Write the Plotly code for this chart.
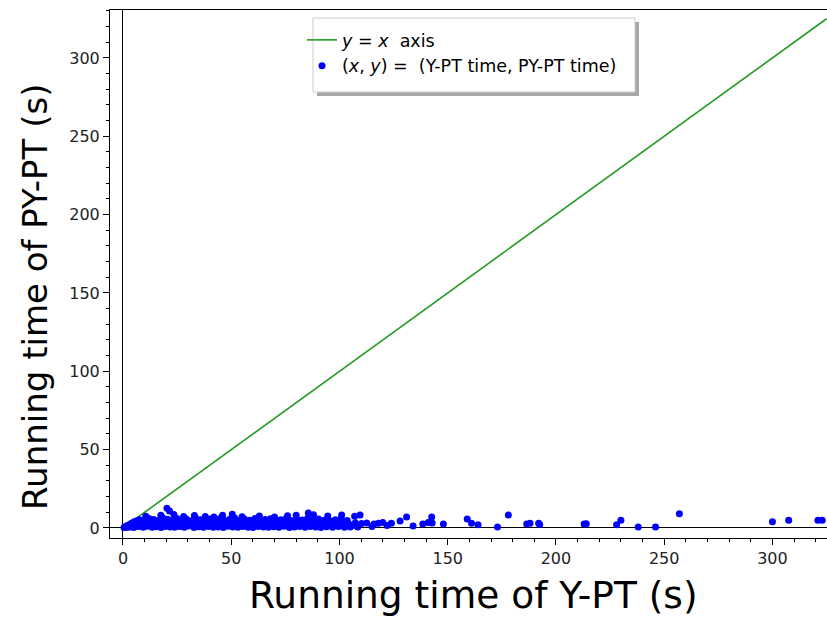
import plotly.graph_objects as go

# y = x reference line
line_x = [0, 325]
line_y = [0, 325]

# (Y-PT time, PY-PT time) pairs
ypt_time = [
    # wedge near origin
    0.5, 1.0, 2.0, 3.0, 4.0, 5.0, 6.0, 2.4, 3.6,
    # bottom row
    1.5, 3.2, 5.0, 7.1, 9.3, 11.0, 13.4, 15.2, 17.6, 19.5, 21.8, 23.9, 26.1, 28.3, 30.4, 32.8,
    35.0, 37.2, 39.6, 41.7, 44.0, 46.3, 48.5, 50.7, 53.1, 55.4, 57.8, 60.0, 62.5, 64.9, 67.2,
    69.6, 72.0, 74.3, 76.9, 79.2, 81.6, 84.1, 86.5, 89.0, 91.4, 94.0, 96.8, 99.5, 102.3, 105.0,
    108.4, 115.0, 122.0,
    # lower-middle row
    5.5, 8.0, 10.2, 12.3, 14.5, 16.6, 18.8, 20.9, 23.1, 25.2, 27.4, 29.6, 31.7, 33.9, 36.1, 38.3,
    40.5, 42.7, 44.9, 47.2, 49.4, 51.7, 53.9, 56.2, 58.5, 60.8, 63.1, 65.4, 67.8, 70.1, 72.5,
    74.9, 77.3, 79.7, 82.2, 84.6, 87.1, 89.6, 92.2, 94.8, 97.4, 100.1, 103.0, 106.1,
    # middle row
    3.8, 6.2, 8.5, 10.7, 12.6, 14.8, 17.0, 19.1, 21.3, 23.4, 25.6, 27.9, 30.1, 32.2, 34.5, 36.7,
    38.9, 41.1, 43.4, 45.6, 47.9, 50.1, 52.4, 54.8, 57.1, 59.4, 61.8, 64.2, 66.5, 68.9, 71.3,
    73.7, 76.1, 78.6, 81.0, 83.5, 86.0, 88.4, 90.9, 93.5, 96.2, 98.8, 101.6, 104.5, 107.3, 110.2,
    # top row
    7.5, 9.8, 12.0, 14.1, 16.3, 18.4, 20.6, 22.7, 24.9, 27.0, 29.2, 31.4, 33.6, 35.8, 38.1, 40.3,
    42.5, 44.8, 47.0, 49.3, 51.6, 53.9, 56.2, 58.6, 61.0, 63.3, 65.7, 68.1, 70.5, 72.9, 75.4,
    77.8, 80.3, 82.8, 85.3, 87.8, 90.3, 92.9, 95.5, 98.1, 100.8, 103.6,
    # bumps
    10.5, 17.5, 20.3, 21.5, 23.5, 28.0, 33.0, 38.0, 42.0, 46.0, 50.5, 55.0, 63.0, 70.0, 76.0,
    80.0, 85.6, 88.0, 94.6, 101.0, 107.0, 109.5,
    # sparse tail
    112.6, 116.0, 118.0, 120.0, 124.0, 128.0, 131.0, 134.0, 138.5, 141.0, 142.6, 142.8, 148.0,
    159.0, 161.0, 164.0, 173.0, 178.0, 186.5, 188.0, 192.0, 192.5, 213.0, 214.0, 228.0, 230.0,
    238.0, 246.0, 257.0, 300.0, 307.5, 321.0, 323.0,
]
pypt_time = [
    0.3, 0.8, 1.5, 2.2, 3.0, 3.8, 4.5, 0.6, 1.2,
    0.4, 0.7, 0.3, 0.9, 0.5, 1.1, 0.4, 0.8, 0.3, 1.0, 0.6, 0.4, 0.9, 0.5, 1.2, 0.3,
    0.8, 0.5, 1.0, 0.4, 0.7, 0.3, 1.1, 0.6, 0.4, 0.9, 0.5, 0.3, 1.0, 0.7, 0.4,
    0.8, 0.5, 1.1, 0.3, 0.7, 0.9, 0.4, 1.0, 0.6, 0.3, 0.8, 0.5, 1.0, 0.4, 0.7,
    0.6, 1.0, 1.5,
    1.8, 1.5, 2.0, 1.7, 1.4, 2.1, 1.6, 1.9, 1.5, 2.0, 1.7, 1.4, 1.9, 1.6, 2.1, 1.5,
    1.8, 1.6, 2.0, 1.4, 1.9, 1.7, 1.5, 2.1, 1.6, 1.8, 1.4, 2.0, 1.7, 1.5, 1.9,
    1.6, 2.0, 1.4, 1.8, 1.7, 1.5, 2.1, 1.6, 1.9, 1.4, 1.8, 1.6, 1.5,
    2.5, 3.1, 2.2, 3.6, 2.8, 3.3, 2.4, 3.8, 2.9, 2.3, 3.5, 2.7, 3.2, 2.1, 3.7, 2.6,
    3.4, 2.2, 3.0, 3.6, 2.5, 3.3, 2.8, 2.3, 3.5, 2.9, 3.1, 2.4, 3.7, 2.6, 3.2,
    2.2, 3.4, 2.7, 3.0, 2.5, 3.6, 2.3, 3.1, 2.8, 3.4, 2.6, 3.0, 2.4, 3.3, 2.9,
    5.2, 4.7, 6.0, 5.4, 4.9, 6.3, 5.6, 4.8, 6.1, 5.0, 5.7, 4.6, 6.2, 5.3, 4.9, 5.8,
    5.1, 6.0, 4.7, 5.5, 6.3, 4.8, 5.6, 5.0, 6.1, 4.6, 5.4, 5.9, 4.9, 5.2, 6.0,
    4.7, 5.5, 5.1, 6.2, 4.8, 5.7, 5.0, 4.6, 5.3, 5.9, 4.8,
    7.5, 8.2, 12.6, 10.8, 8.6, 7.3, 8.0, 7.4, 7.0, 8.1, 8.8, 7.2, 7.6, 7.0, 7.8,
    8.1, 9.5, 8.4, 7.7, 8.3, 7.5, 8.3,
    3.2, 2.5, 3.0, 3.5, 3.0, 4.5, 7.0, 1.3, 2.5, 3.5, 7.0, 3.2, 2.5,
    5.7, 3.0, 2.0, 0.6, 8.3, 2.5, 3.0, 3.0, 2.2, 2.5, 2.7, 2.0, 5.0,
    0.6, 0.6, 9.0, 4.0, 5.0, 5.0, 5.0,
]

# plot area in pixels (for placing legend box / titles)
L, R, T, B = 110, 827, 10, 538
W, H = R - L, B - T


def px(xp):
    return (xp - L) / W


def py(yp):
    return (B - yp) / H


fig = go.Figure()

fig.add_trace(go.Scatter(
    x=line_x, y=line_y, mode="lines",
    line=dict(color="#249b24", width=1.6),
    name="<i>y</i> = <i>x</i>  axis",
))
fig.add_trace(go.Scatter(
    x=ypt_time, y=pypt_time, mode="markers",
    marker=dict(color="#0000ff", size=7, line=dict(width=0)),
    name="(<i>x</i>, <i>y</i>) =  (Y-PT time, PY-PT time)",
))

axis_common = dict(
    showgrid=False, automargin=False,
    showline=True, linecolor="black", linewidth=1,
    ticks="outside", ticklen=6, tickcolor="black",
    tickfont=dict(family="DejaVu Sans", size=16, color="#222"),
    zeroline=True, zerolinecolor="black", zerolinewidth=1.4,
    dtick=50,
    minor=dict(ticks="outside", ticklen=3, dtick=10, tickcolor="black", showgrid=False),
)

fig.update_xaxes(range=[-6, 325.2], mirror=True, **axis_common)
fig.update_yaxes(range=[-6.4, 330.6], mirror=False, **axis_common)

# axis titles
fig.add_annotation(text="Running time of Y-PT (s)", xref="paper", yref="paper",
                   x=px(473), y=py(595), xanchor="center", yanchor="middle",
                   showarrow=False,
                   font=dict(family="DejaVu Sans", size=37.5, color="black"))
fig.add_annotation(text="Running time of PY-PT (s)", xref="paper", yref="paper",
                   x=px(35), y=py(297), xanchor="center", yanchor="middle",
                   showarrow=False, textangle=-90,
                   font=dict(family="DejaVu Sans", size=34, color="black"))

# legend box with drop shadow
fig.add_shape(type="rect", xref="paper", yref="paper",
              x0=px(317), x1=px(639), y0=py(96), y1=py(22),
              fillcolor="#a8a8a8", line=dict(width=0), layer="above")
fig.add_shape(type="rect", xref="paper", yref="paper",
              x0=px(313), x1=px(635), y0=py(92), y1=py(18),
              fillcolor="white", line=dict(color="#cccccc", width=1), layer="above")

fig.update_layout(
    width=827, height=618,
    margin=dict(l=L, r=827 - R, t=T, b=618 - B),
    plot_bgcolor="white", paper_bgcolor="white",
    showlegend=True,
    legend=dict(
        x=px(302), y=py(22), xanchor="left", yanchor="top",
        bgcolor="rgba(0,0,0,0)", borderwidth=0,
        font=dict(family="DejaVu Sans", size=17.5, color="black"),
        itemwidth=30, tracegroupgap=0,
    ),
)

fig.write_html("out.html", config={"displayModeBar": False},
               post_script="document.body.style.margin='0px';")
